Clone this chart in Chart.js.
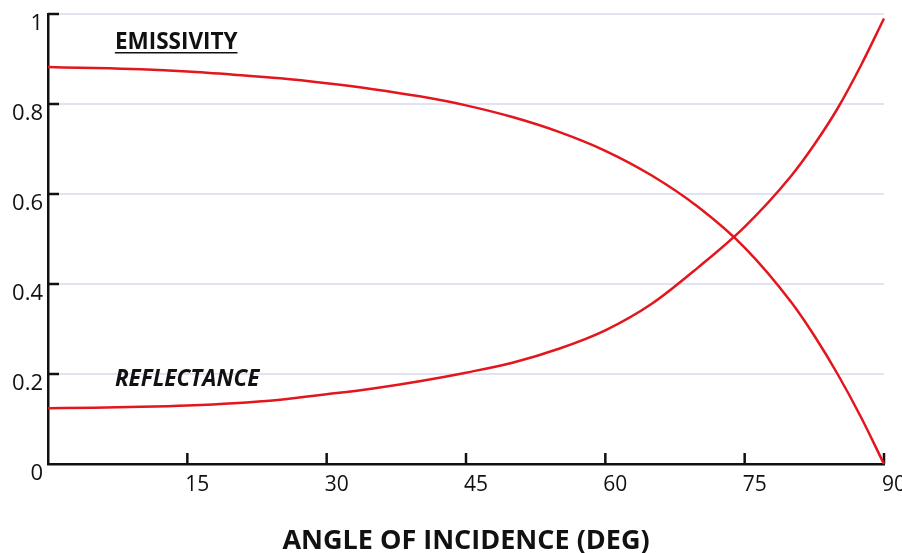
<!DOCTYPE html>
<html>
<head>
<meta charset="utf-8">
<script src="https://cdn.jsdelivr.net/npm/chart.js@4.4.1/dist/chart.umd.min.js"></script>
<style>
  html, body { margin: 0; padding: 0; background: #fff; }
  #wrap { width: 902px; height: 553px; }
</style>
</head>
<body>
<div id="wrap"><canvas id="angleChart" width="902" height="553"></canvas></div>
<script>
// angle of incidence (deg) and the two curves
const angles      = [0, 5, 10, 15, 20, 25, 30, 35, 40, 45, 50, 55, 60, 65, 70, 75, 80, 82.5, 85, 87.5, 90];
const emissivity  = [0.882, 0.880, 0.877, 0.872, 0.865, 0.857, 0.846, 0.833, 0.817, 0.797, 0.771, 0.738, 0.696, 0.641, 0.571, 0.481, 0.360, 0.285, 0.200, 0.105, 0.0];
const reflectance = [0.124, 0.125, 0.127, 0.130, 0.135, 0.143, 0.155, 0.168, 0.184, 0.203, 0.225, 0.256, 0.297, 0.356, 0.437, 0.527, 0.640, 0.710, 0.790, 0.885, 0.990];
const xTicks = [15, 30, 45, 60, 75, 90];
const yTicks = [0, 0.2, 0.4, 0.6, 0.8, 1];

const RED = '#e3161d';
const INK = '#111';

Chart.defaults.font.family = "'Open Sans', sans-serif";
Chart.defaults.color = INK;

function toPoints(ys) {
    return angles.map((a, i) => ({ x: a, y: ys[i] }));
}

// short tick marks pointing into the plot + curve names
const axisMarks = {
    id: 'axisMarks',
    beforeDatasetsDraw(chart) {
        const { ctx, chartArea, scales: { x, y } } = chart;
        ctx.save();
        ctx.strokeStyle = INK;
        ctx.lineWidth = 2.5;
        yTicks.forEach(v => {
            if (v === 0) return;
            const py = y.getPixelForValue(v);
            ctx.beginPath();
            ctx.moveTo(chartArea.left, py);
            ctx.lineTo(chartArea.left + 11, py);
            ctx.stroke();
        });
        xTicks.forEach(v => {
            const px = x.getPixelForValue(v);
            ctx.beginPath();
            ctx.moveTo(px, chartArea.bottom);
            ctx.lineTo(px, chartArea.bottom - 11);
            ctx.stroke();
        });
        ctx.restore();
    },
    afterDraw(chart) {
        const { ctx, scales: { x, y } } = chart;
        ctx.save();
        ctx.fillStyle = INK;
        ctx.textBaseline = 'middle';
        ctx.textAlign = 'left';

        // EMISSIVITY, underlined
        ctx.font = "bold 22.5px 'Open Sans', sans-serif";
        const ex = x.getPixelForValue(7.2), ey = y.getPixelForValue(0.936);
        ctx.fillText('EMISSIVITY', ex, ey);
        const w = ctx.measureText('EMISSIVITY').width;
        ctx.strokeStyle = INK;
        ctx.lineWidth = 1.5;
        ctx.beginPath();
        ctx.moveTo(ex, ey + 10);
        ctx.lineTo(ex + w, ey + 10);
        ctx.stroke();

        // REFLECTANCE, italic
        ctx.font = "italic bold 22.5px 'Open Sans', sans-serif";
        ctx.fillText('REFLECTANCE', x.getPixelForValue(7.2), y.getPixelForValue(0.187));
        ctx.restore();
    }
};

new Chart(document.getElementById('angleChart'), {
    type: 'line',
    data: {
        datasets: [
            { label: 'Emissivity', data: toPoints(emissivity) },
            { label: 'Reflectance', data: toPoints(reflectance) }
        ]
    },
    options: {
        responsive: false,
        animation: false,
        clip: false,
        layout: { padding: { top: 14, right: 18, left: 0, bottom: 0 } },
        elements: {
            line: { borderColor: RED, borderWidth: 2.5, cubicInterpolationMode: 'monotone', fill: false },
            point: { radius: 0 }
        },
        plugins: {
            legend: { display: false },
            tooltip: { enabled: false }
        },
        scales: {
            x: {
                type: 'linear',
                min: 0,
                max: 90,
                afterFit: s => { s.height = 89; s.paddingRight = 0; s.paddingLeft = 0; },
                grid: { display: false, drawTicks: false },
                border: { display: true, color: INK, width: 2.5 },
                ticks: {
                    stepSize: 15,
                    padding: 8,
                    labelOffset: 10,
                    font: { size: 21 },
                    callback: v => (v === 0 ? '' : v)
                },
                title: {
                    display: true,
                    text: 'ANGLE OF INCIDENCE (DEG)',
                    font: { size: 27, weight: 'bold', lineHeight: 0.85 },
                    padding: { top: 0, bottom: 0 }
                }
            },
            y: {
                min: 0,
                max: 1,
                afterFit: s => { s.width = 48; s.paddingTop = 0; s.paddingBottom = 0; },
                grid: { color: '#e2e2f5', lineWidth: 2, drawTicks: false },
                border: { display: true, color: INK, width: 2.5 },
                ticks: {
                    stepSize: 0.2,
                    padding: 5,
                    labelOffset: 10,
                    font: { size: 22 },
                    callback: v => (v === 0 || v === 1 ? String(v) : v.toFixed(1))
                }
            }
        }
    },
    plugins: [axisMarks]
});
</script>
</body>
</html>
